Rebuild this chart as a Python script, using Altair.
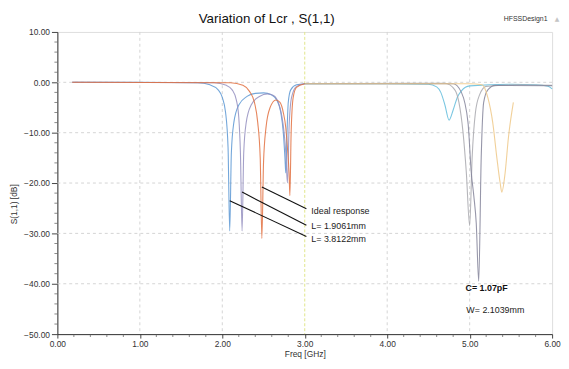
import altair as alt
import pandas as pd

# ---- curve data (freq GHz, S11 dB) ----
blue_f = [0.18, 1.0, 1.7, 1.85, 1.95, 2.0, 2.04, 2.07, 2.09, 2.11, 2.14, 2.2, 2.3, 2.4, 2.5, 2.6, 2.66, 2.71, 2.74, 2.76, 2.77, 2.785, 2.8, 2.83, 2.9, 3.0]
blue_db = [0.0, 0.0, -0.1, -0.5, -1.5, -3.0, -6.0, -13.0, -29.5, -14.0, -8.0, -4.5, -2.8, -2.2, -2.1, -2.5, -3.5, -6.0, -10.0, -15.0, -18.0, -10.0, -4.0, -1.5, -0.5, -0.3]

purple_f = [0.18, 1.9, 2.05, 2.12, 2.17, 2.2, 2.22, 2.24, 2.26, 2.29, 2.35, 2.45, 2.55, 2.62, 2.68, 2.72, 2.75, 2.77, 2.79, 2.81, 2.84, 2.9, 3.0]
purple_db = [0.0, -0.1, -0.6, -1.5, -3.5, -7.0, -14.0, -29.5, -14.0, -8.0, -4.5, -2.8, -2.3, -2.6, -4.0, -6.5, -10.0, -14.0, -20.0, -9.0, -3.0, -0.8, -0.3]

orange_f = [0.18, 2.1, 2.25, 2.33, 2.39, 2.43, 2.46, 2.48, 2.50, 2.53, 2.58, 2.65, 2.7, 2.74, 2.77, 2.79, 2.81, 2.82, 2.835, 2.86, 2.9, 3.0]
orange_db = [0.0, -0.1, -0.6, -1.8, -4.0, -8.0, -15.0, -31.0, -16.0, -9.0, -5.0, -3.5, -4.0, -6.0, -9.0, -13.0, -18.0, -22.5, -10.0, -3.0, -1.0, -0.3]

cyan_f = [3.0, 4.0, 4.5, 4.6, 4.65, 4.7, 4.75, 4.8, 4.85, 4.9, 5.0, 5.5, 5.8, 5.95, 6.0]
cyan_db = [-0.3, -0.3, -0.4, -0.9, -2.0, -4.5, -7.5, -5.5, -3.0, -1.7, -0.7, -0.4, -0.5, -0.8, -1.3]

grey_f = [3.0, 4.7, 4.82, 4.87, 4.92, 4.96, 5.0, 5.03, 5.07, 5.12, 5.2, 5.6, 6.0]
grey_db = [-0.3, -0.2, -1.5, -4.0, -10.0, -18.0, -28.5, -15.0, -6.0, -2.5, -0.8, -0.5, -0.6]

dark_f = [3.0, 4.8, 4.9, 4.98, 5.02, 5.05, 5.08, 5.11, 5.14, 5.17, 5.22, 5.31, 6.0]
dark_db = [-0.3, -0.3, -2.0, -8.0, -18.0, -22.5, -28.0, -39.5, -15.0, -4.0, -1.5, -0.6, -0.7]

yellow_f = [3.0, 5.0, 5.15, 5.22, 5.28, 5.33, 5.37, 5.39, 5.43, 5.47, 5.53]
yellow_db = [-0.3, -0.3, -0.5, -3.0, -8.0, -15.0, -20.0, -21.8, -18.0, -11.0, -4.0]

curve_names = ["cyan", "grey", "dark", "yellow", "blue", "purple", "orange"]
curve_colors = ["#62bcdc", "#a8a8ae", "#84849a", "#eec887", "#5a97d4", "#948fc0", "#e2703f"]
curve_data = {
    "cyan": (cyan_f, cyan_db), "grey": (grey_f, grey_db), "dark": (dark_f, dark_db),
    "yellow": (yellow_f, yellow_db), "blue": (blue_f, blue_db),
    "purple": (purple_f, purple_db), "orange": (orange_f, orange_db),
}

# annotations
ann_text = ["Ideal response", "L= 1.9061mm", "L= 3.8122mm", "W= 2.1039mm"]
ann_f = [3.08, 3.08, 3.08, 4.96]
ann_db = [-25.5, -28.6, -31.2, -45.2]
bold_text = ["C= 1.07pF"]
bold_f = [4.95]
bold_db = [-40.8]
lead_f1 = [2.48, 2.24, 2.09]
lead_db1 = [-20.8, -21.8, -23.5]
lead_f2 = [3.02, 3.02, 3.02]
lead_db2 = [-25.1, -28.4, -30.6]

x_major = [0, 1, 2, 3, 4, 5, 6]
y_major = [-50, -40, -30, -20, -10, 0, 10]
x_minor = [0.2, 0.4, 0.6, 0.8, 1.2, 1.4, 1.6, 1.8, 2.2, 2.4, 2.6, 2.8, 3.2, 3.4, 3.6, 3.8,
           4.2, 4.4, 4.6, 4.8, 5.2, 5.4, 5.6, 5.8]
y_minor = [-48, -46, -44, -42, -38, -36, -34, -32, -28, -26, -24, -22, -18, -16, -14, -12,
           -8, -6, -4, -2, 2, 4, 6, 8]
x_grid = [1, 2, 4, 5]
x_grid_hl = [3]
y_grid = [-40, -30, -20, -10, 0]

title_text = "Variation of Lcr , S(1,1)"
design_text = "HFSSDesign1"
icon_text = "▲"

rows = []
for i, n in enumerate(curve_names):
    fs, ds = curve_data[n]
    for f, d in zip(fs, ds):
        rows.append({"curve": n, "f": f, "db": d})
df = pd.DataFrame(rows)

FONT = "Liberation Sans"
W, H = 501, 306
xscale = alt.Scale(domain=[0, 6], nice=False, zero=False)
yscale = alt.Scale(domain=[-50, 10], nice=False, zero=False)

xaxis = alt.Axis(
    values=x_major, format=".2f", grid=False, labelOverlap=False,
    tickSize=4, tickColor="#444", domainColor="#333",
    labelFontSize=8.5, labelFont=FONT, labelColor="#333", labelPadding=2, labelFlush=False,
    title="Freq [GHz]", titleFont=FONT, titleFontSize=8.5, titleFontWeight="normal", titleColor="#333",
    titlePadding=1,
)
yaxis = alt.Axis(
    values=y_major, format=".2f", grid=False, labelOverlap=False,
    tickSize=6, tickColor="#444", domainColor="#333",
    labelFontSize=8.5, labelFont=FONT, labelColor="#333", labelPadding=2,
    title="S(1,1) [dB]", titleFont=FONT, titleFontSize=8.5, titleFontWeight="normal", titleColor="#333",
    titleAngle=-90, titleX=-44, titleY=174, titleAlign="center", titleBaseline="middle",
)

# grid lines
xg = alt.Chart(pd.DataFrame({"v": x_grid})).mark_rule(color="#d4d4d4", strokeDash=[3, 3], strokeWidth=1).encode(
    x=alt.X("v:Q", scale=xscale, axis=xaxis))
xg_hl = alt.Chart(pd.DataFrame({"v": x_grid_hl})).mark_rule(color="#e2e68c", strokeDash=[3, 2], strokeWidth=1).encode(
    x=alt.X("v:Q", scale=xscale))
yg = alt.Chart(pd.DataFrame({"v": y_grid})).mark_rule(color="#d4d4d4", strokeDash=[3, 3], strokeWidth=1).encode(
    y=alt.Y("v:Q", scale=yscale, axis=yaxis))

# minor ticks
xmin = alt.Chart(pd.DataFrame({"v": x_minor})).mark_tick(color="#555", size=3, thickness=1).encode(
    x=alt.X("v:Q", scale=xscale), y=alt.value(H + 1.5))
ymin = alt.Chart(pd.DataFrame({"v": y_minor})).mark_tick(color="#555", size=3, thickness=1).encode(
    y=alt.Y("v:Q", scale=yscale), x=alt.value(-1.5))

lines = alt.Chart(df).mark_line(strokeWidth=1.1, interpolate="monotone", opacity=0.85).encode(
    x=alt.X("f:Q", scale=xscale),
    y=alt.Y("db:Q", scale=yscale),
    color=alt.Color("curve:N", scale=alt.Scale(domain=curve_names, range=curve_colors), legend=None),
    detail="curve:N",
)

lead_df = pd.DataFrame({"f1": lead_f1, "d1": lead_db1, "f2": lead_f2, "d2": lead_db2})
leads = alt.Chart(lead_df).mark_rule(color="#111", strokeWidth=1.1).encode(
    x=alt.X("f1:Q", scale=xscale), y=alt.Y("d1:Q", scale=yscale),
    x2="f2:Q", y2="d2:Q",
)

ann_df = pd.DataFrame({"t": ann_text, "f": ann_f, "db": ann_db})
anns = alt.Chart(ann_df).mark_text(align="left", baseline="middle", font=FONT, fontSize=9, color="#222").encode(
    x=alt.X("f:Q", scale=xscale), y=alt.Y("db:Q", scale=yscale), text="t:N",
)
bold_df = pd.DataFrame({"t": bold_text, "f": bold_f, "db": bold_db})
bolds = alt.Chart(bold_df).mark_text(align="left", baseline="middle", font=FONT, fontSize=9, fontWeight="bold", color="#111").encode(
    x=alt.X("f:Q", scale=xscale), y=alt.Y("db:Q", scale=yscale), text="t:N",
)

title = alt.Chart(pd.DataFrame({"t": [title_text]})).mark_text(
    align="center", baseline="middle", font=FONT, fontSize=13.5, color="#111").encode(
    x=alt.value(212), y=alt.value(-13), text="t:N")
design = alt.Chart(pd.DataFrame({"t": [design_text]})).mark_text(
    align="left", baseline="middle", font=FONT, fontSize=7, color="#333").encode(
    x=alt.value(452), y=alt.value(-13), text="t:N")
icon = alt.Chart(pd.DataFrame({"t": [icon_text]})).mark_text(
    align="center", baseline="middle", font="DejaVu Sans", fontSize=6, color="#c4c4c4").encode(
    x=alt.value(506), y=alt.value(-13), text="t:N")

chart = alt.layer(xg, xg_hl, yg, lines, leads, anns, bolds, xmin, ymin, title, design, icon).properties(
    width=W, height=H,
    autosize=alt.AutoSizeParams(type="none"),
    padding={"left": 50, "top": 22, "right": 9, "bottom": 28},
).configure_view(stroke="#888", strokeWidth=1).configure(background="white")

chart.save("out.html", embed_options={"renderer": "svg", "actions": False})
